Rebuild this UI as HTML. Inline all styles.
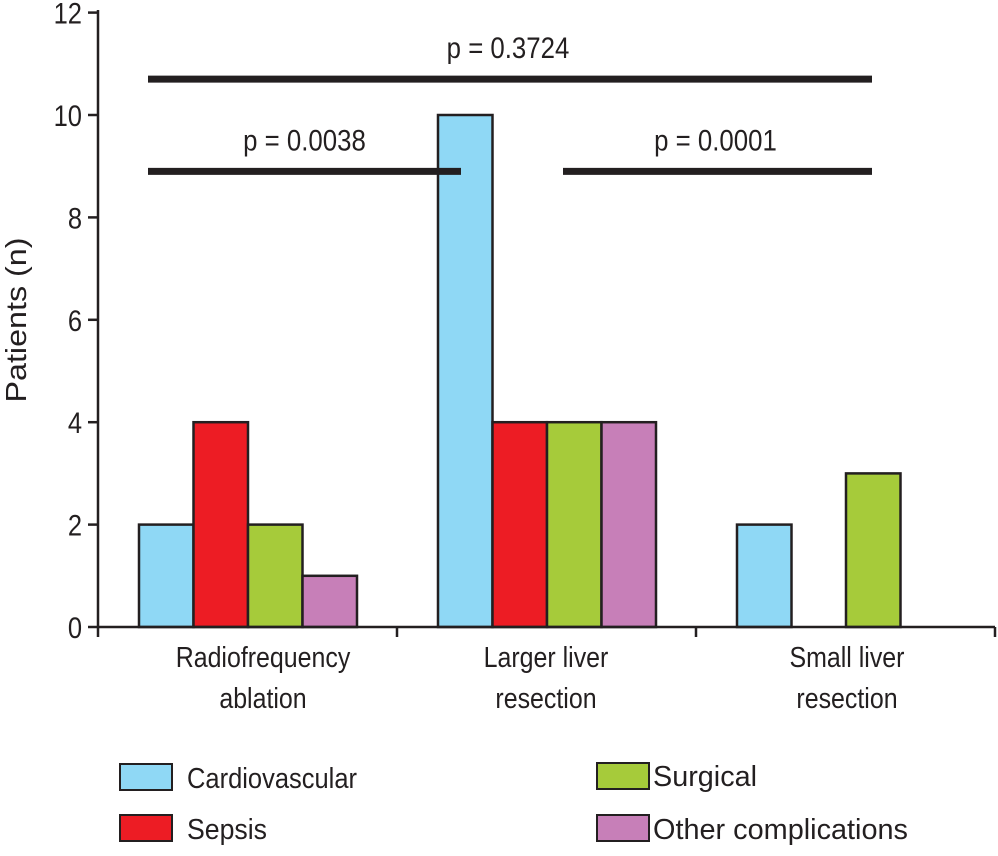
<!DOCTYPE html>
<html><head><meta charset="utf-8"><style>
body{margin:0;background:#fff;}
svg text{font-family:"Liberation Sans",sans-serif;fill:#231f20;}
</style></head><body>
<svg id="chart" width="998" height="851" viewBox="0 0 998 851" xmlns="http://www.w3.org/2000/svg">
<g id="bars"></g>
<g id="axes"></g>
<g id="sig"></g>
<text transform="translate(26,320) rotate(-90)" text-anchor="middle" font-size="29" textLength="165" lengthAdjust="spacingAndGlyphs">Patients (n)</text>
<g>
<rect x="120" y="764" width="52" height="26" fill="#8fd8f5" stroke="#231f20" stroke-width="2"/>
<text x="187" y="788" font-size="29" textLength="170" lengthAdjust="spacingAndGlyphs">Cardiovascular</text>
<rect x="120" y="815" width="52" height="26" fill="#ed1c24" stroke="#231f20" stroke-width="2"/>
<text x="187" y="839" font-size="29" textLength="80" lengthAdjust="spacingAndGlyphs">Sepsis</text>
<rect x="597" y="763" width="52" height="26" fill="#a6cb3a" stroke="#231f20" stroke-width="2"/>
<text x="653" y="786" font-size="29" textLength="104" lengthAdjust="spacingAndGlyphs">Surgical</text>
<rect x="597" y="815" width="52" height="26" fill="#c77fb8" stroke="#231f20" stroke-width="2"/>
<text x="653" y="839" font-size="29" textLength="255" lengthAdjust="spacingAndGlyphs">Other complications</text>
</g>
</svg>
<script>
const categories=[["Radiofrequency","ablation"],["Larger liver","resection"],["Small liver","resection"]];
const seriesNames=["cardiovascular","sepsis","surgical","other"];
const cardiovascular=[2,10,2];
const sepsis=[4,4,0];
const surgical=[2,4,3];
const other=[1,4,0];
const yTicks=[0,2,4,6,8,10,12];
const sigLabels=["p = 0.3724","p = 0.0038","p = 0.0001"];
const sigLevels=[10.7,8.9,8.9];
const colors=["#8fd8f5","#ed1c24","#a6cb3a","#c77fb8"];
const NS="http://www.w3.org/2000/svg";
const x0=98,x1=995,y0=627,pxPer=51.2,groupW=(x1-x0)/categories.length,barW=54.5,off=41;
const labelOff=[165,149,151];
function y(v){return y0-v*pxPer;}
function mk(t,a,p){const e=document.createElementNS(NS,t);for(const k in a)e.setAttribute(k,a[k]);p.appendChild(e);return e;}
const bars=document.getElementById('bars'),axes=document.getElementById('axes'),sig=document.getElementById('sig');
const series=[cardiovascular,sepsis,surgical,other];
series.forEach((s,si)=>{s.forEach((v,ci)=>{if(v<=0)return;
const r=mk('rect',{x:x0+ci*groupW+off+si*barW,y:y(v),width:barW,height:v*pxPer,fill:colors[si],stroke:'#231f20','stroke-width':2.5},bars);

});});
mk('line',{x1:x0,y1:10,x2:x0,y2:y0,stroke:'#231f20','stroke-width':2.5},axes);
mk('line',{x1:x0,y1:y0,x2:x1,y2:y0,stroke:'#231f20','stroke-width':2.5},axes);
yTicks.forEach(t=>{mk('line',{x1:x0-10,y1:y(t),x2:x0,y2:y(t),stroke:'#231f20','stroke-width':2.5},axes);
const tx=mk('text',{x:x0-16,y:y(t)+11,'text-anchor':'end','font-size':30,'transform':'translate('+(x0-16)+',0) scale(0.85,1) translate('+(-(x0-16))+',0)'},axes);tx.textContent=t;

});
for(let i=0;i<=categories.length;i++){mk('line',{x1:x0+i*groupW,y1:y0,x2:x0+i*groupW,y2:y0+10,stroke:'#231f20','stroke-width':2.5},axes);}
categories.forEach((c,i)=>{c.forEach((l,j)=>{const cx=x0+i*groupW+labelOff[i];
const tx=mk('text',{x:cx,y:667+j*41,'text-anchor':'middle','font-size':29,'transform':'translate('+cx+',0) scale(0.86,1) translate('+(-cx)+',0)'},axes);tx.textContent=l;

});});
const sigX=[[148,872],[148,461],[563,872]];
sigLabels.forEach((l,i)=>{const [a,b]=sigX[i];
const ln=mk('line',{x1:a,y1:y(sigLevels[i]),x2:b,y2:y(sigLevels[i]),stroke:'#231f20','stroke-width':7},sig);


const cx=(a+b)/2+(i==0?-2:0)+(i==2?-2:0);
const tx=mk('text',{x:cx,y:y(sigLevels[i])-21,'text-anchor':'middle','font-size':30,'transform':'translate('+cx+',0) scale(0.86,1) translate('+(-cx)+',0)'},sig);tx.textContent=l;

});
</script>
</body></html>
